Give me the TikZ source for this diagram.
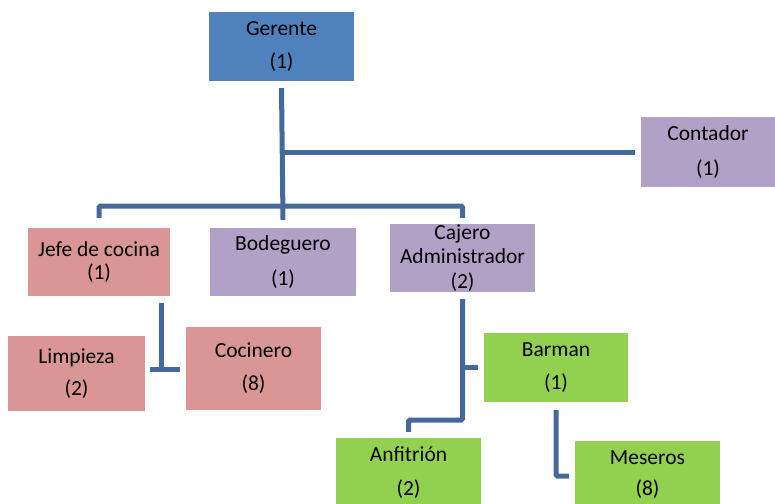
\documentclass[tikz,border=0pt]{standalone}
\usepackage{fontspec}
\setmainfont{Carlito}
\definecolor{bluebox}{HTML}{4F81BD}
\definecolor{lilac}{HTML}{B2A1C7}
\definecolor{rose}{HTML}{D99694}
\definecolor{lime}{HTML}{92D050}
\definecolor{linkc}{HTML}{44699C}
\begin{document}
\begin{tikzpicture}[x=1pt,y=-1pt,
  box/.style={fill=#1, draw=none, inner sep=0pt, align=center,
    font=\fontsize{21.5}{33}\selectfont, text=black},
  conn/.style={draw=linkc, line width=5pt, rounded corners=1.5pt}]
\useasboundingbox (0,0) rectangle (775,503);

% boxes
\node[box=bluebox, minimum width=145, minimum height=69] (gerente) at (281.5,46.5) {Gerente\\(1)};
\node[box=lilac, minimum width=134, minimum height=70] (contador) at (708,152) {Contador\\[2pt](1)};
\node[box=rose, minimum width=142, minimum height=68, font=\fontsize{21.5}{23}\selectfont] (jefe) at (99,262) {Jefe de cocina\\(1)};
\node[box=lilac, minimum width=146, minimum height=68, font=\fontsize{21.5}{35}\selectfont] (bodeguero) at (283,262) {Bodeguero\\(1)};
\node[box=lilac, minimum width=145, minimum height=68, font=\fontsize{21.5}{24.5}\selectfont] (cajero) at (462.5,258) {Cajero\\Administrador\\(2)};
\node[box=rose, minimum width=137, minimum height=75, font=\fontsize{21.5}{32}\selectfont] (limpieza) at (76.5,373.5) {Limpieza\\(2)};
\node[box=rose, minimum width=135, minimum height=83] (cocinero) at (253.5,368.5) {Cocinero\\(8)};
\node[box=lime, minimum width=144, minimum height=69] (barman) at (556,367.5) {Barman\\(1)};
\node[box=lime, minimum width=145, minimum height=70, font=\fontsize{21.5}{34}\selectfont] (anfitrion) at (408.5,473) {Anfitrión\\(2)};
\node[box=lime, minimum width=145, minimum height=68, font=\fontsize{21.5}{31}\selectfont] (meseros) at (647.5,475) {Meseros\\(8)};

% joints of the connectors
\coordinate (bus) at (0,206);
\coordinate (kit) at (161,369);
\coordinate (caj) at (463,420);
\coordinate (mes) at (557,476);

% trunk from the manager
\draw[conn] ([yshift=-7pt]gerente.south) -- ([yshift=8pt]bodeguero.north);
\draw[conn] (gerente.south |- contador.west) -- ([xshift=-6pt]contador.west);
\draw[conn] ([yshift=10pt]jefe.north) -- (jefe.north |- bus) -| ([yshift=6pt]cajero.north);

% kitchen
\draw[conn] ([yshift=-7pt]jefe.south -| kit) -- (kit);
\draw[conn] ([xshift=5pt]limpieza.east |- kit) -- ([xshift=-6pt]cocinero.west |- kit);

% cashier branch
\draw[conn] ([yshift=-7pt]cajero.south) -- (cajero.south |- caj) -| ([yshift=6pt]anfitrion.north);
\draw[conn] (cajero.south |- barman.west) -- ([xshift=-6pt]barman.west);

% bar
\draw[conn] ([yshift=-8pt]barman.south) |- ([xshift=-6pt]meseros.west |- mes);
\end{tikzpicture}
\end{document}
